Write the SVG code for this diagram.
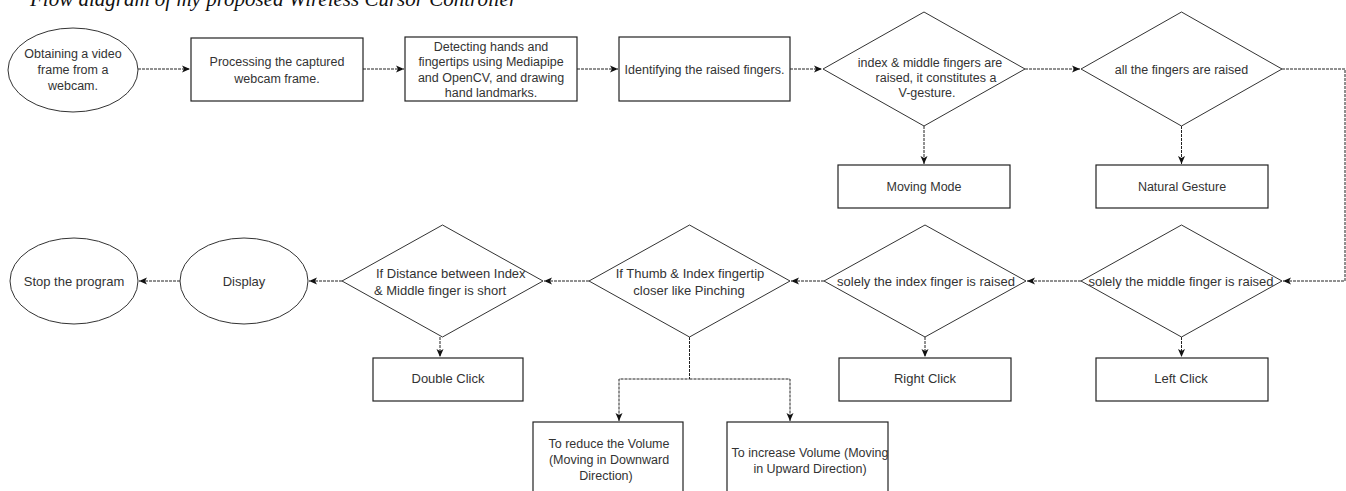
<svg xmlns="http://www.w3.org/2000/svg" width="1346" height="491" viewBox="0 0 1346 491">
<style>
.s{fill:#fff;stroke:#222;stroke-width:1.2}
.d{fill:#fff;stroke:#333;stroke-width:1}
.t{font-family:"Liberation Sans",Arial,sans-serif;font-size:12.5px;fill:#333;text-anchor:middle}
.b{font-size:13px}
.c{fill:none;stroke:#222;stroke-width:1;stroke-dasharray:3 1}
.title{font-family:"Liberation Serif","Times New Roman",serif;font-style:italic;font-size:21px;fill:#111}
</style>
<defs>
<marker id="ah" markerUnits="userSpaceOnUse" markerWidth="9" markerHeight="8" refX="8" refY="4" orient="auto">
<path d="M0,0.5 L8,4 L0,7.5 L2,4 z" fill="#111"/>
</marker>
</defs>
<text class="title" x="30" y="6">Flow diagram of my proposed Wireless Cursor Controller</text>
<g id="connectors">
<path class="c" d="M138,69 H190" marker-end="url(#ah)"/>
<path class="c" d="M363,69 H404" marker-end="url(#ah)"/>
<path class="c" d="M577,69 H618" marker-end="url(#ah)"/>
<path class="c" d="M790,69 H822" marker-end="url(#ah)"/>
<path class="c" d="M1025,69 H1080" marker-end="url(#ah)"/>
<path class="c" d="M924,126 V164" marker-end="url(#ah)"/>
<path class="c" d="M1181.5,126 V164" marker-end="url(#ah)"/>
<path class="c" d="M1282,69 H1345 V281 H1283" marker-end="url(#ah)"/>
<path class="c" d="M1081,281 H1027" marker-end="url(#ah)"/>
<path class="c" d="M824,281 H791" marker-end="url(#ah)"/>
<path class="c" d="M589,281 H544" marker-end="url(#ah)"/>
<path class="c" d="M342,281 H309" marker-end="url(#ah)"/>
<path class="c" d="M180,281 H139" marker-end="url(#ah)"/>
<path class="c" d="M925,337 V357" marker-end="url(#ah)"/>
<path class="c" d="M1181.5,337 V357" marker-end="url(#ah)"/>
<path class="c" d="M440,337 V357" marker-end="url(#ah)"/>
<path class="c" d="M689.5,337 V379 H619 V421" marker-end="url(#ah)"/>
<path class="c" d="M689.5,379 H790 V421" marker-end="url(#ah)"/>
</g>
<g id="n-obtain">
<ellipse class="d" cx="73" cy="70" rx="65" ry="42"/>
<text class="t" x="73" y="58">Obtaining a video</text>
<text class="t" x="73" y="74">frame from a</text>
<text class="t" x="73" y="90">webcam.</text>
</g>
<g id="n-process">
<rect class="s" x="191" y="38" width="172" height="63"/>
<text class="t" x="277" y="66">Processing the captured</text>
<text class="t" x="277" y="83">webcam frame.</text>
</g>
<g id="n-detect">
<rect class="s" x="405" y="37" width="172" height="64"/>
<text class="t" x="491" y="50.5">Detecting hands and</text>
<text class="t" x="491" y="66">fingertips using Mediapipe</text>
<text class="t" x="491" y="82">and OpenCV, and drawing</text>
<text class="t" x="491" y="97">hand landmarks.</text>
</g>
<g id="n-identify">
<rect class="s" x="619" y="37" width="171" height="64"/>
<text class="t" x="704.5" y="73.5">Identifying the raised fingers.</text>
</g>
<g id="n-vgesture">
<polygon class="d" points="823,69 924,12 1025,69 924,126"/>
<text class="t" x="930" y="66.5">index &amp; middle fingers are</text>
<text class="t" x="936" y="81.5">raised, it constitutes a</text>
<text class="t" x="927" y="96.5">V-gesture.</text>
</g>
<g id="n-allfingers">
<polygon class="d" points="1081,69 1181.5,12 1282,69 1181.5,126"/>
<text class="t" x="1181.5" y="73.5">all the fingers are raised</text>
</g>
<g id="n-moving">
<rect class="s" x="838" y="165" width="172" height="43"/>
<text class="t" x="924" y="190.5">Moving Mode</text>
</g>
<g id="n-natural">
<rect class="s" x="1096" y="165" width="172" height="43"/>
<text class="t" x="1182" y="190.5">Natural Gesture</text>
</g>
<g id="n-middle">
<polygon class="d" points="1081,281 1181.5,225 1282,281 1181.5,337"/>
<text class="t b" x="1181" y="285.5">solely the middle finger is raised</text>
</g>
<g id="n-index">
<polygon class="d" points="824,281 925,225 1026,281 925,337"/>
<text class="t b" x="926" y="285.5">solely the index finger is raised</text>
</g>
<g id="n-thumb">
<polygon class="d" points="589,281 689.5,225 790,281 689.5,337"/>
<text class="t b" x="690" y="278">If Thumb &amp; Index fingertip</text>
<text class="t b" x="689" y="294.5">closer like Pinching</text>
</g>
<g id="n-distance">
<polygon class="d" points="342,281 442.5,225 543,281 442.5,337"/>
<text class="t b" x="376" y="278" style="text-anchor:start">If Distance between Index</text>
<text class="t b" x="374" y="294.5" style="text-anchor:start">&amp; Middle finger is short</text>
</g>
<g id="n-display">
<ellipse class="d" cx="244" cy="281" rx="64" ry="43"/>
<text class="t b" x="244" y="285.5">Display</text>
</g>
<g id="n-stop">
<ellipse class="d" cx="74" cy="281" rx="64" ry="43"/>
<text class="t b" x="74" y="285.5">Stop the program</text>
</g>
<g id="n-left">
<rect class="s" x="1096" y="358" width="172" height="43"/>
<text class="t b" x="1181" y="383">Left Click</text>
</g>
<g id="n-right">
<rect class="s" x="839" y="358" width="172" height="43"/>
<text class="t b" x="925" y="383">Right Click</text>
</g>
<g id="n-double">
<rect class="s" x="373" y="358" width="150" height="43"/>
<text class="t b" x="448" y="383">Double Click</text>
</g>
<g id="n-reduce">
<rect class="s" x="533" y="422" width="150" height="80"/>
<text class="t" x="609" y="447.5">To reduce the Volume</text>
<text class="t" x="609" y="463.5">(Moving in Downward</text>
<text class="t" x="606" y="479.5">Direction)</text>
</g>
<g id="n-increase">
<rect class="s" x="727" y="422" width="161" height="80"/>
<text class="t" x="810" y="456.5">To increase Volume (Moving</text>
<text class="t" x="810" y="472.5">in Upward Direction)</text>
</g>
</svg>
